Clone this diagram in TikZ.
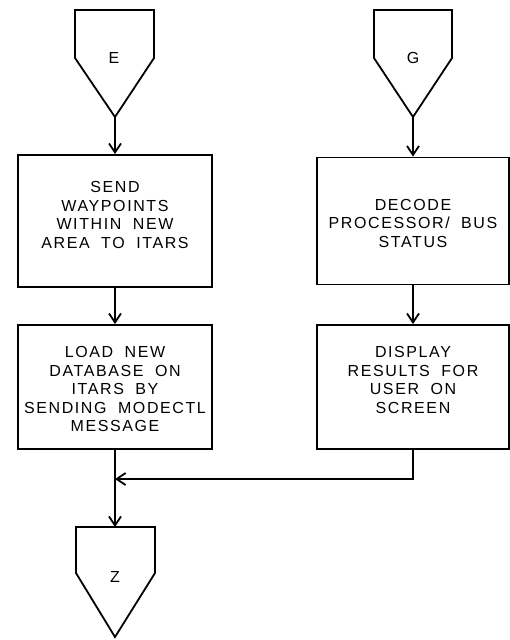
\documentclass[tikz,border=0pt]{standalone}
\usepackage{fontspec}
\newfontfamily\leroy[LetterSpace=10, WordSpace=1.9]{Liberation Sans}
\usepackage{tikz}
\usetikzlibrary{arrows.meta, positioning, calc}

\begin{document}
\begin{tikzpicture}[x=1pt, y=-1pt, line width=1.8pt,
    procbox/.style={draw, minimum width=194pt, inner sep=0pt},
    boxtext/.style={font=\leroy\fontsize{16}{18.5}\selectfont, align=center, inner sep=0pt},
    conntext/.style={font=\leroy\fontsize{16}{18}\selectfont, inner sep=0pt},
    flow/.style={-{Straight Barb[length=9pt, width=12pt]}}]
  \useasboundingbox (0,0) rectangle (509,640);

  % --- Off-page connectors E and G ---
  \draw (75,10) -- (154,10) -- (154,58) -- (115,117) coordinate (Etip) -- (75,58) -- cycle;
  \node[conntext] (E) at (114,58) {E};
  \draw (374,10) -- (452,10) -- (452,58) -- (413,117) coordinate (Gtip) -- (374,58) -- cycle;
  \node[conntext] (G) at (413,58) {G};

  % --- Left column ---
  \node[procbox, minimum height=132pt] (send) at (115,221) {};
  \node[boxtext] (sendtxt) at (115,215) {SEND\\WAYPOINTS\\WITHIN NEW\\AREA TO ITARS};
  \node[procbox, minimum height=124pt] (load) at (115,387) {};
  \node[boxtext] (loadtxt) at (115,389) {LOAD NEW\\DATABASE ON\\ITARS BY\\SENDING MODECTL\\MESSAGE};

  % --- Right column ---
  \node[procbox, minimum width=192pt, minimum height=127pt] (decode) at (413,221) {};
  \node[boxtext] (decodetxt) at (413,223) {DECODE\\PROCESSOR/ BUS\\STATUS};
  \node[procbox, minimum width=192pt, minimum height=124pt] (disp) at (413,387) {};
  \node[boxtext] (disptxt) at (413,380) {DISPLAY\\RESULTS FOR\\USER ON\\SCREEN};

  % --- Off-page connector Z ---
  \draw (76,527) -- (115,527) coordinate (Ztop) -- (155,527) -- (155,573) -- (115,637) -- (76,573) -- cycle;
  \node[conntext] (Z) at (115,577) {Z};
  \coordinate (join) at (115,479);

  % --- Flow lines ---
  \draw[flow] (Etip) -- (send.north);
  \draw[flow] (send.south) -- (load.north);
  \draw[flow] (load.south) -- (Ztop);
  \draw[flow] (Gtip) -- (decode.north);
  \draw[flow] (decode.south) -- (disp.north);
  \draw[flow] (disp.south) |- (join);
\end{tikzpicture}
\end{document}
